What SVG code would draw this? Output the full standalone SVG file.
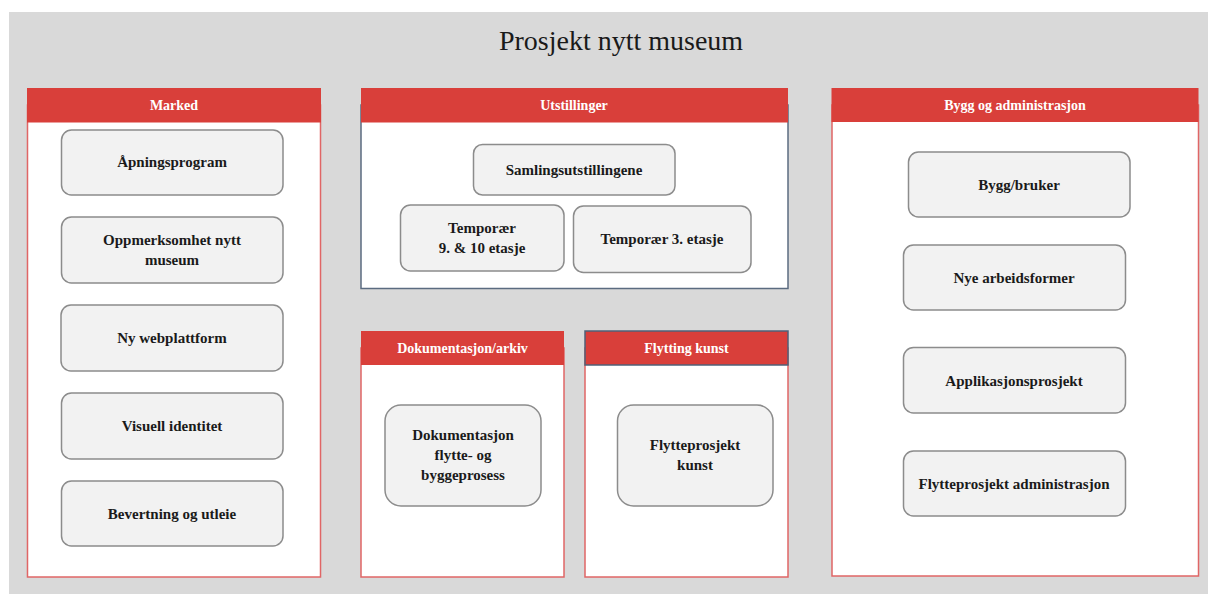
<svg xmlns="http://www.w3.org/2000/svg" width="1216" height="598" viewBox="0 0 1216 598">
<style>
.bg{fill:#d9d9d9}
.body{fill:#ffffff;stroke:#e06666;stroke-width:1.5}
.bodyd{fill:#ffffff;stroke:#5b6b80;stroke-width:1.5}
.hdr{fill:#d93f3a}
.hdrd{fill:#d93f3a;stroke:#4f6178;stroke-width:1.5}
.node{fill:#f2f2f2;stroke:#8c8c8c;stroke-width:1.5}
.ht{font-family:"Liberation Serif","DejaVu Serif",serif;font-size:14px;font-weight:bold;fill:#ffffff;text-anchor:middle}
.nt{font-family:"Liberation Serif","DejaVu Serif",serif;font-size:15px;font-weight:bold;fill:#1a1a1a;text-anchor:middle}
.title{font-family:"Liberation Serif","DejaVu Serif",serif;font-size:28px;fill:#1a1a1a;text-anchor:middle}
</style>
<rect class="bg" x="9" y="12" width="1199" height="582"/>
<text class="title" x="621" y="50">Prosjekt nytt museum</text>

<g id="panel-marked">
<rect class="body" x="27.5" y="105" width="293" height="472"/>
<rect class="hdr" x="27" y="88" width="294" height="34.5"/>
<text class="ht" x="174" y="110">Marked</text>
</g>
<g id="node-apningsprogram">
<rect class="node" x="61.5" y="130" width="221.5" height="65" rx="10"/>
<text class="nt" x="172" y="167">Åpningsprogram</text>
</g>
<g id="node-oppmerksomhet">
<rect class="node" x="61.5" y="217" width="221.5" height="66" rx="10"/>
<text class="nt" x="172" y="245">Oppmerksomhet nytt</text>
<text class="nt" x="172" y="265">museum</text>
</g>
<g id="node-webplattform">
<rect class="node" x="61" y="305" width="222" height="66" rx="10"/>
<text class="nt" x="172" y="343">Ny webplattform</text>
</g>
<g id="node-visuell">
<rect class="node" x="61.5" y="393" width="221.5" height="66" rx="10"/>
<text class="nt" x="172" y="431">Visuell identitet</text>
</g>
<g id="node-bevertning">
<rect class="node" x="61.5" y="481" width="221.5" height="65" rx="10"/>
<text class="nt" x="172" y="519">Bevertning og utleie</text>
</g>

<g id="panel-utstillinger">
<rect class="bodyd" x="361" y="105" width="427" height="183.5"/>
<rect class="hdr" x="361" y="88" width="427" height="34.5"/>
<text class="ht" x="574" y="110">Utstillinger</text>
</g>
<g id="node-samling">
<rect class="node" x="473.5" y="144.5" width="201.5" height="50.5" rx="9"/>
<text class="nt" x="574" y="175">Samlingsutstillingene</text>
</g>
<g id="node-temp910">
<rect class="node" x="400.5" y="205" width="163.5" height="66" rx="10"/>
<text class="nt" x="482" y="233">Temporær</text>
<text class="nt" x="482" y="253">9. &amp; 10 etasje</text>
</g>
<g id="node-temp3">
<rect class="node" x="573.5" y="206" width="177.5" height="66.5" rx="10"/>
<text class="nt" x="662" y="244">Temporær 3. etasje</text>
</g>

<g id="panel-dokumentasjon">
<rect class="body" x="361" y="348" width="203" height="229"/>
<rect class="hdr" x="361" y="331" width="203" height="34"/>
<text class="ht" x="462.5" y="353">Dokumentasjon/arkiv</text>
</g>
<g id="node-dokumentasjon">
<rect class="node" x="385" y="405" width="156" height="101" rx="16"/>
<text class="nt" x="463" y="440">Dokumentasjon</text>
<text class="nt" x="463" y="460">flytte- og</text>
<text class="nt" x="463" y="480">byggeprosess</text>
</g>

<g id="panel-flytting">
<rect class="body" x="585" y="348" width="203" height="229"/>
<rect class="hdrd" x="585" y="331" width="203" height="34"/>
<text class="ht" x="686.5" y="353">Flytting kunst</text>
</g>
<g id="node-flytteprosjekt-kunst">
<rect class="node" x="617.5" y="405" width="155.5" height="101" rx="16"/>
<text class="nt" x="695" y="450">Flytteprosjekt</text>
<text class="nt" x="695" y="470">kunst</text>
</g>

<g id="panel-bygg">
<rect class="body" x="832" y="105" width="366.5" height="471"/>
<rect class="hdr" x="831.5" y="88" width="367" height="34"/>
<text class="ht" x="1015" y="110">Bygg og administrasjon</text>
</g>
<g id="node-bygg-bruker">
<rect class="node" x="908.5" y="152" width="221.5" height="65" rx="10"/>
<text class="nt" x="1019" y="190">Bygg/bruker</text>
</g>
<g id="node-nye">
<rect class="node" x="903.5" y="245" width="222" height="65" rx="10"/>
<text class="nt" x="1014" y="283">Nye arbeidsformer</text>
</g>
<g id="node-applikasjon">
<rect class="node" x="903.5" y="347.5" width="222" height="65.5" rx="10"/>
<text class="nt" x="1014" y="386">Applikasjonsprosjekt</text>
</g>
<g id="node-flytteprosjekt-admin">
<rect class="node" x="903.5" y="451" width="222" height="65" rx="10"/>
<text class="nt" x="1014" y="489">Flytteprosjekt administrasjon</text>
</g>

<g id="connectors"></g>
</svg>
